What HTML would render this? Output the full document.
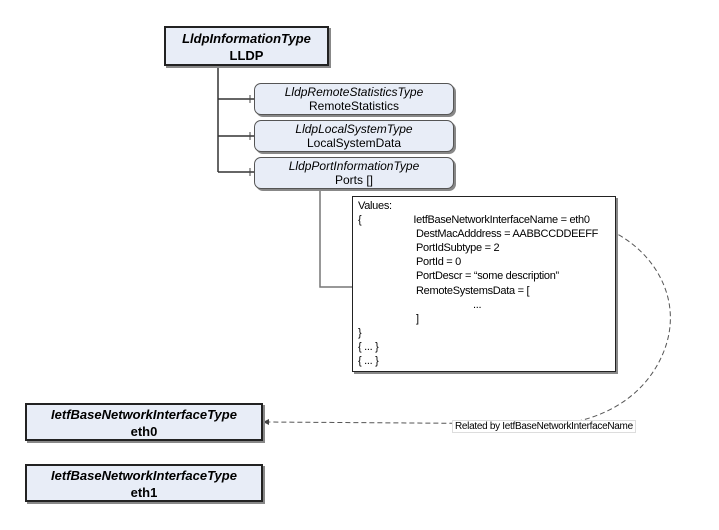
<!DOCTYPE html>
<html><head><style>
body{margin:0;background:#fff;width:719px;height:530px;position:relative;overflow:hidden;font-family:"Liberation Sans",sans-serif;}
.b{position:absolute;box-sizing:border-box;background:#e8edf7;border:1px solid #333;text-align:center;color:#000;box-shadow:2px 2px 0 #888;}
.sq{border:2px solid #222;font-weight:bold;font-size:13px;line-height:17px;}
.r{border-radius:7px;font-size:12px;line-height:14px;padding-top:1px;border-color:#555;}
i{font-style:italic;}
.v{position:absolute;left:352px;top:196px;width:264px;height:176px;box-sizing:border-box;border:1px solid #222;box-shadow:2px 2px 0 #888;background:#fff;font-size:11px;line-height:14.1px;padding:2px 5px;letter-spacing:-0.3px;}
.v div{white-space:nowrap;}
</style></head><body>
<svg style="position:absolute;left:0;top:0" width="719" height="530">
<g stroke="#333" stroke-width="1.5" fill="none">
<path d="M218 66V172M218 99H254M218 136H254M218 172H254"/>
<path d="M320 189V287H352" stroke="#777"/>
</g>
<g stroke="#444"><path d="M250 95v8M250 132v8M250 168v8"/></g>
<path d="M604 228 C650 245,690 300,660 360 C640 400,600 420,560 424 L265 422" stroke="#555" fill="none" stroke-dasharray="5,3"/>
<path d="M263 422l6-3v6z" fill="#444"/>
</svg>
<div class="b sq" style="left:164px;top:26px;width:165px;height:40px;padding-top:2px"><i>LldpInformationType</i><br>LLDP</div>
<div class="b r" style="left:254px;top:83px;width:200px;height:32px"><i>LldpRemoteStatisticsType</i><br>RemoteStatistics</div>
<div class="b r" style="left:254px;top:120px;width:200px;height:32px"><i>LldpLocalSystemType</i><br>LocalSystemData</div>
<div class="b r" style="left:254px;top:157px;width:200px;height:32px"><i>LldpPortInformationType</i><br>Ports []</div>
<div class="v">
<div>Values:</div>
<div>{<span style="margin-left:52px">IetfBaseNetworkInterfaceName = eth0</span></div>
<div style="padding-left:58px">DestMacAdddress = AABBCCDDEEFF</div>
<div style="padding-left:58px">PortIdSubtype = 2</div>
<div style="padding-left:58px">PortId = 0</div>
<div style="padding-left:58px">PortDescr = “some description”</div>
<div style="padding-left:58px">RemoteSystemsData = [</div>
<div style="padding-left:115px">...</div>
<div style="padding-left:58px">]</div>
<div>}</div><div>{ ... }</div><div>{ ... }</div>
</div>
<div class="b sq" style="left:25px;top:403px;width:238px;height:38px;padding-top:1px"><i>IetfBaseNetworkInterfaceType</i><br>eth0</div>
<div class="b sq" style="left:25px;top:464px;width:238px;height:38px;padding-top:1px"><i>IetfBaseNetworkInterfaceType</i><br>eth1</div>
<div style="position:absolute;left:452px;top:420px;font-size:10px;background:#fff;border:1px solid #ddd;padding:0 2px;letter-spacing:-0.3px;white-space:nowrap">Related by IetfBaseNetworkInterfaceName</div>
</body></html>
